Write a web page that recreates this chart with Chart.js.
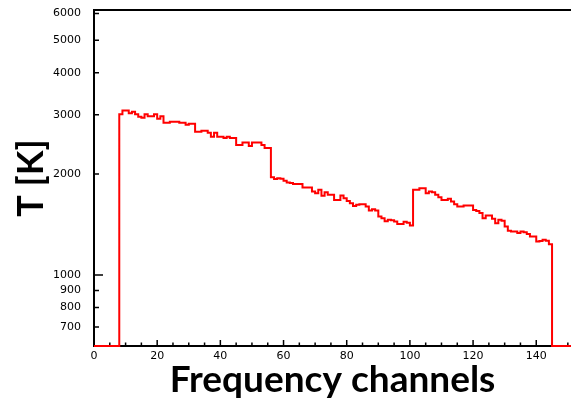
<!DOCTYPE html>
<html>
<head>
<meta charset="utf-8">
<script src="https://cdn.jsdelivr.net/npm/chart.js@4"></script>
<style>
  html, body { margin: 0; padding: 0; background: #fff; }
  #wrap { width: 571px; height: 399px; }
</style>
</head>
<body>
<div id="wrap"><canvas id="spectrum" width="571" height="399"></canvas></div>
<script>
// channel range of the histogram and the axis limits
const X_MIN = 0;
const X_MAX = 151;
const Y_MIN = 615;
const Y_MAX = 6150;
const FIRST_CHANNEL = 8;

// T [K] per frequency channel, channels 8 .. 144 (empty elsewhere)
const TEMPS = [
  3010, 3090, 3090, 3030, 3060, 3010, 2960, 2940, 3010, 2970,   // 8-17
  2970, 3010, 2920, 2970, 2840, 2840, 2860, 2860, 2860, 2840,   // 18-27
  2840, 2800, 2820, 2820, 2670, 2670, 2690, 2690, 2650, 2580,   // 28-37
  2650, 2580, 2580, 2560, 2580, 2560, 2560, 2440, 2440, 2480,   // 38-47
  2480, 2420, 2480, 2480, 2480, 2440, 2390, 2390, 1955, 1930,   // 48-57
  1940, 1935, 1910, 1885, 1880, 1867, 1867, 1867, 1821, 1821,   // 58-67
  1821, 1772, 1753, 1793, 1721, 1765, 1733, 1733, 1674, 1674,   // 68-77
  1725, 1694, 1660, 1637, 1605, 1618, 1625, 1625, 1599, 1556,   // 78-87
  1571, 1556, 1493, 1477, 1445, 1460, 1455, 1443, 1420, 1420,   // 88-97
  1440, 1430, 1405, 1793, 1793, 1814, 1814, 1753, 1772, 1765,   // 98-107
  1733, 1705, 1674, 1674, 1686, 1655, 1625, 1599, 1599, 1610,   // 108-117
  1610, 1610, 1563, 1550, 1529, 1477, 1503, 1503, 1470, 1427,   // 118-127
  1460, 1450, 1394, 1354, 1348, 1348, 1333, 1348, 1340, 1324,   // 128-137
  1302, 1302, 1259, 1264, 1273, 1265, 1236                      // 138-144
];

const X_TICKS = [0, 20, 40, 60, 80, 100, 120, 140];
const X_MINOR_STEP = 5;
const Y_TICKS = [700, 800, 900, 1000, 2000, 3000, 4000, 5000, 6000];

// one point per bin left edge; empty bins lie on the axis floor
const points = [];
for (let c = X_MIN; c < X_MAX; c++) {
  const i = c - FIRST_CHANNEL;
  points.push({ x: c, y: (i >= 0 && i < TEMPS.length) ? TEMPS[i] : Y_MIN });
}
points.push({ x: X_MAX, y: Y_MIN });

const tickFont = { family: 'DejaVu Sans', size: 11 };

// frame top line and the inward tick marks
const frameTicks = {
  id: 'frameTicks',
  beforeDatasetsDraw(chart) {
    const { ctx, chartArea, scales: { x, y } } = chart;
    ctx.save();
    ctx.strokeStyle = '#000';
    ctx.lineWidth = 2;
    ctx.beginPath();
    ctx.moveTo(chartArea.left - 1, chartArea.top);
    ctx.lineTo(chartArea.right, chartArea.top);
    ctx.stroke();

    ctx.lineWidth = 1.5;
    ctx.beginPath();
    for (let v = X_MIN; v <= X_MAX; v += X_MINOR_STEP) {
      const px = x.getPixelForValue(v);
      const len = X_TICKS.includes(v) ? 6 : 3.5;
      ctx.moveTo(px, chartArea.bottom);
      ctx.lineTo(px, chartArea.bottom - len);
    }
    Y_TICKS.forEach((v) => {
      const py = y.getPixelForValue(v);
      const len = v === 1000 ? 9 : 5;
      ctx.moveTo(chartArea.left, py);
      ctx.lineTo(chartArea.left + len, py);
    });
    ctx.stroke();
    ctx.restore();
  }
};

new Chart(document.getElementById('spectrum').getContext('2d'), {
  type: 'line',
  data: {
    datasets: [{
      data: points,
      stepped: 'before',
      borderColor: '#ff0000',
      borderWidth: 2,
      pointRadius: 0,
      fill: false,
      clip: false
    }]
  },
  options: {
    responsive: false,
    animation: false,
    layout: { padding: { top: 10, right: 0, bottom: 0, left: 0 } },
    plugins: { legend: { display: false }, tooltip: { enabled: false } },
    scales: {
      x: {
        type: 'linear',
        min: X_MIN,
        max: X_MAX,
        grid: { display: false, drawTicks: false },
        border: { display: true, color: '#000', width: 2 },
        ticks: {
          color: '#000', font: tickFont, padding: 4,
          maxRotation: 0, autoSkip: false,
          callback: (v) => String(v)
        },
        afterBuildTicks: (s) => { s.ticks = X_TICKS.map((v) => ({ value: v })); },
        afterFit: (s) => { s.height = 53; s.paddingLeft = 0; s.paddingRight = 0; },
        title: {
          display: true, text: 'Frequency channels', color: '#000',
          font: { family: 'Lato', weight: 'bold', size: 37, lineHeight: 1 },
          padding: { top: 0, bottom: 0 }
        }
      },
      y: {
        type: 'logarithmic',
        min: Y_MIN,
        max: Y_MAX,
        grid: { display: false, drawTicks: false },
        border: { display: true, color: '#000', width: 2 },
        ticks: {
          color: '#000', font: tickFont, padding: 13,
          autoSkip: false,
          callback: (v) => String(v)
        },
        afterBuildTicks: (s) => { s.ticks = Y_TICKS.map((v) => ({ value: v })); },
        afterFit: (s) => { s.width = 94; s.paddingTop = 0; s.paddingBottom = 0; },
        title: {
          display: true, text: 'T [K]', color: '#000',
          font: { family: 'Lato', weight: 'bold', size: 36, lineHeight: 1 },
          padding: { top: 13, bottom: 0 }
        }
      }
    }
  },
  plugins: [frameTicks]
});
</script>
</body>
</html>
